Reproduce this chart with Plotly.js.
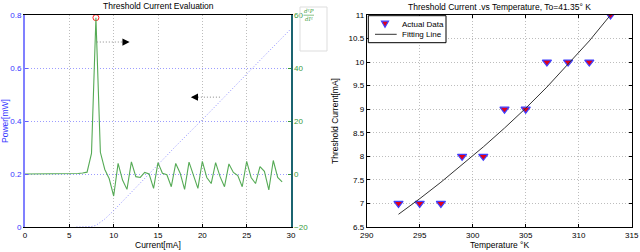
<!DOCTYPE html>
<html><head><meta charset="utf-8">
<script src="https://cdn.plot.ly/plotly-3.0.1.min.js"></script>
<style>body{margin:0;padding:0;background:#fff}#c{width:640px;height:252px}</style>
</head><body><div id="c"></div>
<script>
// Left chart: second derivative (right axis) and power (left axis) vs current
const currentX = [0,0.5,1,1.5,2,2.5,3,3.5,4,4.5,5,5.5,6,6.5,7,7.5,8,8.5,9,9.5,10,10.5,11,11.5,12,12.5,13,13.5,14,14.5,15,15.5,16,16.5,17,17.5,18,18.5,19,19.5,20,20.5,21,21.5,22,22.5,23,23.5,24,24.5,25,25.5,26,26.5,27,27.5,28,28.5,29];
const d2P = [0,0,0,0,0.1,0.1,0.2,0.2,0.2,0.2,0.1,0.2,0.2,0.4,0.7,7.8,59,8.2,1.7,-1.8,-8.3,4.0,-2.3,-5.8,4.6,-1.0,-1.3,0.6,0,-5.4,4.3,0.3,-0.3,-4.8,4.0,0.3,-5.8,4.5,-0.3,-5.4,4.8,-1.3,-3.6,4.3,-1.0,-4.8,3.8,0.6,-0.6,-4.8,4.8,-1.3,-3.6,2.8,1.0,-6.0,5.1,-1.3,-3.0];
const powerX = [5.8,6,7,7.5,8,9,10,11,12,13,14,15,16,17,18,19,20,21,22,23,24,25,26,27,28,29,30];
const powerY = [0,0,0.001,0.002,0.006,0.03,0.062,0.096,0.13,0.165,0.2,0.235,0.27,0.305,0.34,0.372,0.405,0.44,0.475,0.51,0.545,0.578,0.612,0.646,0.68,0.714,0.748];
const peakX = [8];
const peakY = [0.79];
// Right chart: threshold current vs temperature
const tempK = [293,295,297,299,301,303,305,307,309,311,313];
const ithActual = [7,7,7,8,8,9,9,10,10,10,11];
const fitT = [293,295,297,299,301,303,305,307,309,311,313];
const fitI = [6.77,7.1,7.45,7.82,8.2,8.6,9.02,9.47,9.95,10.45,11.0];
const legendNames = ['Actual Data', 'Fitting Line'];

const F = "Liberation Sans, Arial, sans-serif";
const W = 640, H = 252;
const lx0 = 25/W, lx1 = 291/W;
const rx0 = 366.7/W, rx1 = 631.7/W;
const y0 = 1-227/H, y1 = 1-15/H;
const px = v => v/W, py = v => 1-v/H;

const markerStyle = {symbol:'triangle-down', color:'#e0001a', size:8, line:{color:'#4040ff', width:1.2}};
const fitLine = {color:'#333', width:1};
const gridGray = '#bdbdbd';
const dotDash = '1px,2px';

const traces = [
  {x: powerX, y: powerY, xaxis:'x', yaxis:'y', mode:'lines', line:{color:'#8f8fff', width:1, dash:dotDash}, showlegend:false},
  {x: currentX, y: d2P, xaxis:'x', yaxis:'y2', mode:'lines', line:{color:'#55aa55', width:1.1}, showlegend:false},
  {x: peakX, y: peakY, xaxis:'x', yaxis:'y', mode:'markers', marker:{symbol:'circle-open', color:'#ff2020', size:6, line:{width:1}}, showlegend:false},
  {x: tempK, y: ithActual, xaxis:'x2', yaxis:'y3', mode:'markers', name:legendNames[0], marker:markerStyle, showlegend:false},
  {x: fitT, y: fitI, xaxis:'x2', yaxis:'y3', mode:'lines', name:legendNames[1], line:fitLine, showlegend:false}
];

const tickF = {family:F, size:8, color:'#000'};
const ann = (x, y, text, extra) => Object.assign({xref:'paper', yref:'paper', x:px(x), y:py(y), text:text, showarrow:false, xanchor:'center', yanchor:'middle', font:{family:F, size:8.5, color:'#000'}}, extra||{});
const layout = {
  width: W, height: H,
  margin:{l:0,r:0,t:0,b:0},
  paper_bgcolor:'#fff', plot_bgcolor:'#fff',
  font:{family:F, size:8, color:'#000'},
  showlegend:false,
  xaxis:{domain:[lx0,lx1], anchor:'y', range:[0,30], dtick:5, tick0:0,
    showline:true, linecolor:'#000', linewidth:1, mirror:true,
    ticks:'inside', ticklen:3, tickcolor:'#000',
    showgrid:true, gridcolor:gridGray, griddash:dotDash, gridwidth:1,
    zeroline:false, tickfont:tickF},
  yaxis:{domain:[y0,y1], anchor:'x', range:[0,0.8],
    showline:true, linecolor:'#8080ff', linewidth:2,
    ticks:'inside', ticklen:3, tickcolor:'#6060ff',
    showgrid:true, gridcolor:'#9c9cff', griddash:dotDash, gridwidth:1,
    zeroline:false, tickfont:{family:F, size:8, color:'#3535ff'},
    tickvals:[0,0.2,0.4,0.6,0.8], ticktext:['0','0.2','0.4','0.6','0.8']},
  yaxis2:{overlaying:'y', side:'right', anchor:'x', range:[-20,60], dtick:20, tick0:-20,
    showline:true, linecolor:'#1b6470', linewidth:1.5,
    ticks:'inside', ticklen:3, tickcolor:'#3a9a3a',
    showgrid:false, zeroline:false, tickfont:{family:F, size:8, color:'#3a9a3a'}},
  xaxis2:{domain:[rx0,rx1], anchor:'y3', range:[290,315], dtick:5, tick0:290,
    showline:true, linecolor:'#000', linewidth:1, mirror:'ticks',
    ticks:'inside', ticklen:3, tickcolor:'#000',
    showgrid:true, gridcolor:gridGray, griddash:dotDash, gridwidth:1,
    zeroline:false, tickfont:tickF},
  yaxis3:{domain:[y0,y1], anchor:'x2', range:[6.5,11], dtick:0.5, tick0:6.5,
    showline:true, linecolor:'#000', linewidth:1, mirror:'ticks',
    ticks:'inside', ticklen:3, tickcolor:'#000',
    showgrid:true, gridcolor:gridGray, griddash:dotDash, gridwidth:1,
    zeroline:false, tickfont:tickF},
  shapes:[
    {type:'line', xref:'x', yref:'y', x0:8.1, x1:11.0, y0:0.698, y1:0.698, line:{color:'#888', width:1, dash:dotDash}},
    {type:'line', xref:'x', yref:'y', x0:19.5, x1:22.2, y0:0.49, y1:0.49, line:{color:'#888', width:1, dash:dotDash}},
    // d2P/dI2 label box
    {type:'rect', xref:'paper', yref:'paper', x0:px(300), x1:px(327), y0:py(51), y1:py(7), line:{color:'#dddddd', width:1}, fillcolor:'rgba(255,255,255,0)'},
    {type:'line', xref:'paper', yref:'paper', x0:px(303.5), x1:px(314), y0:py(15.2), y1:py(15.2), line:{color:'#3a9a3a', width:0.6}},
    // legend box for right chart
    {type:'rect', xref:'paper', yref:'paper', x0:px(368.3), x1:px(446), y0:py(42.7), y1:py(15.7), line:{color:'#000', width:1}, fillcolor:'#fff'},
    {type:'path', xref:'paper', yref:'paper', path:'M '+px(381.5)+' '+py(21.2)+' L '+px(388.5)+' '+py(21.2)+' L '+px(385)+' '+py(27.2)+' Z', fillcolor:markerStyle.color, line:{color:markerStyle.line.color, width:1.2}},
    {type:'line', xref:'paper', yref:'paper', x0:px(375), x1:px(396.7), y0:py(34.3), y1:py(34.3), line:fitLine}
  ],
  annotations:[
    {xref:'x', yref:'y', x:11.8, y:0.698, ax:-8, ay:0, text:'', showarrow:true, arrowhead:2, arrowsize:1.2, arrowwidth:1.2, arrowcolor:'#000'},
    {xref:'x', yref:'y', x:18.7, y:0.49, ax:8, ay:0, text:'', showarrow:true, arrowhead:2, arrowsize:1.2, arrowwidth:1.2, arrowcolor:'#000'},
    ann(158, 6, 'Threshold Current Evaluation'),
    ann(158, 245, 'Current[mA]'),
    ann(5, 121, 'Power[mW]', {textangle:-90, font:{family:F, size:8.5, color:'#3535ff'}}),
    ann(309, 11.2, '<i>d</i>²<i>P</i>', {font:{family:'DejaVu Serif, serif', size:5.5, color:'#3a9a3a'}}),
    ann(309, 19.2, '<i>dI</i>²', {font:{family:'DejaVu Serif, serif', size:5.5, color:'#3a9a3a'}}),
    ann(499, 6.5, 'Threshold Current .vs Temperature, To=41.35° K'),
    ann(499, 245, 'Temperature °K'),
    ann(335, 121, 'Threshold Current[mA]', {textangle:-90}),
    ann(400, 24, legendNames[0], {xanchor:'left', font:{family:F, size:8, color:'#000'}}),
    ann(400, 34.3, legendNames[1], {xanchor:'left', font:{family:F, size:8, color:'#000'}})
  ]
};
Plotly.newPlot('c', traces, layout, {displayModeBar:false, staticPlot:true});
</script></body></html>
